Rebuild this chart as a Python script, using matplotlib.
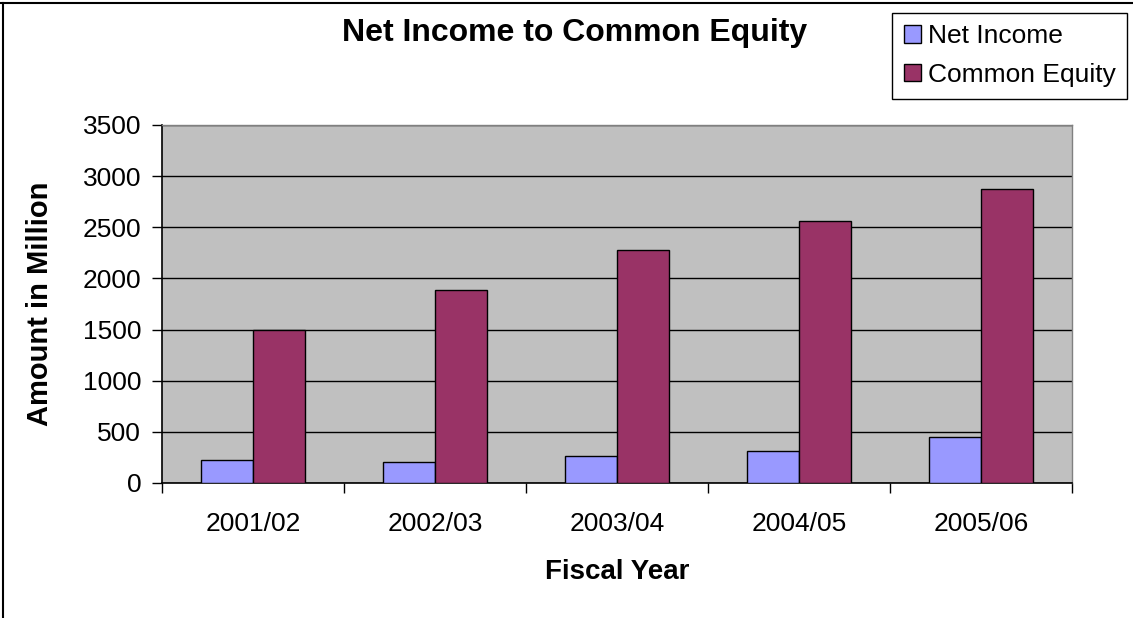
import matplotlib
matplotlib.use("Agg")
import matplotlib.pyplot as plt
import numpy as np
from matplotlib.lines import Line2D

# fiscal years and amounts (in million)
years = ["2001/02", "2002/03", "2003/04", "2004/05", "2005/06"]
net_income = [222, 206, 262, 311, 451]
common_equity = [1500, 1890, 2278, 2559, 2873]

plt.rcParams["font.family"] = ["Liberation Sans", "DejaVu Sans"]

W, H = 1133, 618
fig = plt.figure(figsize=(W / 100, H / 100), dpi=100)
fig.patch.set_facecolor("white")

# plot area in pixels: x 162..1072, y 125..483
ax = fig.add_axes([162 / W, 1 - 483 / H, 910 / W, 358 / H])
ax.set_facecolor("#C0C0C0")

x = np.arange(len(years))
w = 52 / 182
ax.bar(x - w / 2, net_income, w, color="#9999FF", edgecolor="black",
       linewidth=1.0, label="Net Income", zorder=3)
ax.bar(x + w / 2, common_equity, w, color="#993366", edgecolor="black",
       linewidth=1.0, label="Common Equity", zorder=3)

ax.set_ylim(0, 3500)
ax.set_xlim(-0.5, len(years) - 0.5)
ax.set_yticks(np.arange(0, 3501, 500))
ax.yaxis.grid(True, color="black", linewidth=1.0, zorder=1)
ax.set_axisbelow(True)

# category boundaries get the tick marks, labels sit in the middle
ax.set_xticks(np.arange(-0.5, len(years), 1.0))
ax.set_xticklabels([])
ax.set_xticks(x, minor=True)
ax.set_xticklabels(years, minor=True)
ax.tick_params(axis="x", which="major", direction="out", length=7, width=1)
ax.tick_params(axis="x", which="minor", length=0, pad=21, labelsize=19)
ax.tick_params(axis="y", direction="out", length=7, width=1, pad=8, labelsize=19)

for side in ["left", "bottom"]:
    ax.spines[side].set_color("black")
    ax.spines[side].set_linewidth(1.2)
for side in ["top", "right"]:
    ax.spines[side].set_color("#808080")
    ax.spines[side].set_linewidth(1.0)

ax.set_xlabel("Fiscal Year", fontsize=20, fontweight="bold")
ax.xaxis.set_label_coords(0.5, -0.249)
ax.xaxis.label.set_va("center")
ax.set_ylabel("Amount in Million", fontsize=21, fontweight="bold")
ax.yaxis.set_label_coords((40 - 162) / 910, 0.5)
ax.yaxis.label.set_va("center")

fig.text(575 / W, 1 - 33 / H, "Net Income to Common Equity",
         fontsize=23, fontweight="bold", ha="center", va="center")

leg = fig.legend(loc="upper left", bbox_to_anchor=(892 / W, 1 - 12.5 / H),
                 fontsize=19, frameon=True, fancybox=False, shadow=False,
                 borderaxespad=0, borderpad=0.45, labelspacing=0.55,
                 handlelength=0.65, handleheight=0.65, handletextpad=0.25)
leg.get_frame().set_edgecolor("black")
leg.get_frame().set_linewidth(1.0)
leg.get_frame().set_alpha(1)

# outer chart frame: top and left edges
fig.add_artist(Line2D([0, 1], [1 - 3 / H, 1 - 3 / H], color="black", linewidth=1.5))
fig.add_artist(Line2D([3 / W, 3 / W], [0, 1 - 3 / H], color="black", linewidth=1.5))

fig.savefig("out.png", dpi=100)
